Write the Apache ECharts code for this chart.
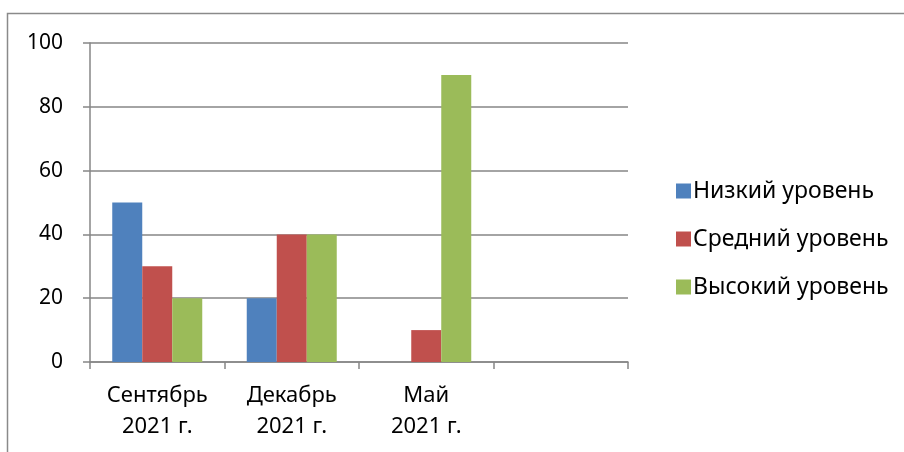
<!DOCTYPE html>
<html>
<head>
<meta charset="utf-8">
<script src="https://cdn.jsdelivr.net/npm/echarts@6/dist/echarts.min.js"></script>
<style>
html,body{margin:0;padding:0;background:#fff;}
#c{width:904px;height:452px;}
</style>
</head>
<body>
<div id="c"></div>
<script>
const categories = ['Сентябрь\n2021 г.', 'Декабрь\n2021 г.', 'Май\n2021 г.', ''];
const seriesNames = ['Низкий уровень', 'Средний уровень', 'Высокий уровень'];
const lowValues = [50, 20, null, null];
const midValues = [30, 40, 10, null];
const highValues = [20, 40, 90, null];
const yTicks = [0, 20, 40, 60, 80, 100];
const colors = ['#4F81BD', '#C0504D', '#9BBB59'];

const chart = echarts.init(document.getElementById('c'), null, {renderer: 'canvas'});
const font = '"Noto Sans", "Open Sans", sans-serif';
const axisColor = '#868686';
const mk = (name, data, color) => ({
  name, type: 'bar', data, barWidth: 30, barGap: '0%',
  itemStyle: {color}
});
chart.setOption({
  animation: false,
  graphic: [{
    type: 'rect', shape: {x: 7.5, y: 13.5, width: 1000, height: 1000},
    style: {fill: 'none', stroke: '#8a8a8a', lineWidth: 1.5}, silent: true
  }],
  grid: {left: 90, top: 43, width: 538, bottom: 90, containLabel: false},
  legend: {
    orient: 'vertical', left: 671, top: 173,
    itemWidth: 15, itemHeight: 15, itemGap: 22,
    icon: 'rect',
    textStyle: {fontFamily: font, fontSize: 23, color: '#000', lineHeight: 26, padding: [0, 0, 0, -3]},
    data: seriesNames
  },
  xAxis: {
    type: 'category', data: categories,
    axisLine: {lineStyle: {color: axisColor, width: 1.5}},
    axisTick: {show: true, length: 7, alignWithLabel: false, lineStyle: {color: axisColor, width: 1.5}},
    axisLabel: {fontFamily: font, fontSize: 22, color: '#000', lineHeight: 31, margin: 18, interval: 0},
    splitLine: {show: false}
  },
  yAxis: {
    type: 'value', min: yTicks[0], max: yTicks[yTicks.length - 1], interval: 20,
    axisLine: {show: true, lineStyle: {color: axisColor, width: 1.5}},
    axisTick: {show: true, length: 7, lineStyle: {color: axisColor, width: 1.5}},
    axisLabel: {fontFamily: font, fontSize: 21, color: '#000', margin: 27},
    splitLine: {show: true, lineStyle: {color: axisColor, width: 1.5}}
  },
  series: [
    mk(seriesNames[0], lowValues, colors[0]),
    mk(seriesNames[1], midValues, colors[1]),
    mk(seriesNames[2], highValues, colors[2])
  ]
});
</script>
</body>
</html>
